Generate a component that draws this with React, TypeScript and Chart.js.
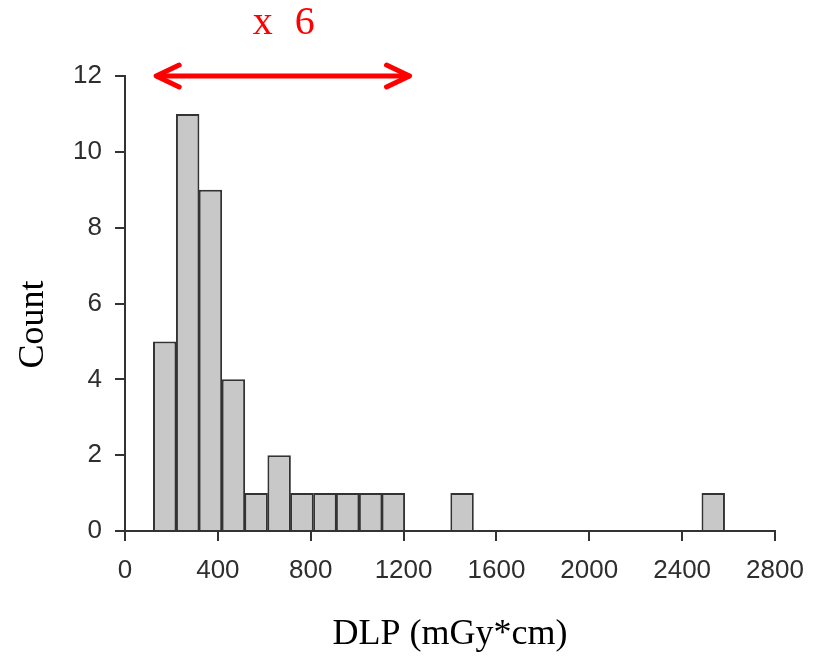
import React, { useEffect, useRef } from 'react';
import { Chart, registerables } from 'chart.js';

Chart.register(...registerables);

// DLP bin centres (mGy*cm) and counts
const binCenters = [171, 270, 368, 467, 565, 664, 762, 861, 959, 1058, 1156, 1452, 2534];
const counts = [5, 11, 9, 4, 1, 2, 1, 1, 1, 1, 1, 1, 1];

const xMin = 0;
const xMax = 2800;
const xStep = 400;
const yMin = 0;
const yMax = 12;
const yStep = 2;

const xTitle = 'DLP (mGy*cm)';
const yTitle = 'Count';
const rangeLabel = 'x 6';
const rangeFrom = 130;
const rangeTo = 1230;
const rangeLevel = 12;

const overlayPlugin = {
  id: 'overlay',
  afterDraw(chart: any) {
    const { ctx, scales, chartArea } = chart;
    const xs = scales.x;
    const ys = scales.y;
    const x1 = xs.getPixelForValue(rangeFrom);
    const x2 = xs.getPixelForValue(rangeTo);
    const y = ys.getPixelForValue(rangeLevel);
    ctx.save();
    ctx.strokeStyle = '#ff0000';
    ctx.lineWidth = 5;
    ctx.lineCap = 'round';
    ctx.lineJoin = 'round';
    ctx.beginPath();
    ctx.moveTo(x1 + 2, y);
    ctx.lineTo(x2 - 2, y);
    ctx.stroke();
    ctx.beginPath();
    ctx.moveTo(x1 + 24, y - 11);
    ctx.lineTo(x1 + 1, y);
    ctx.lineTo(x1 + 24, y + 11);
    ctx.stroke();
    ctx.beginPath();
    ctx.moveTo(x2 - 24, y - 11);
    ctx.lineTo(x2 - 1, y);
    ctx.lineTo(x2 - 24, y + 11);
    ctx.stroke();

    ctx.fillStyle = '#ff0000';
    ctx.font = '40px "Liberation Serif", serif';
    ctx.textAlign = 'center';
    ctx.textBaseline = 'middle';
    (ctx as any).letterSpacing = '6px';
    ctx.fillText(rangeLabel, (x1 + x2) / 2 + 4, y - 53);
    (ctx as any).letterSpacing = '0px';

    // y axis title
    ctx.fillStyle = '#000000';
    ctx.font = '36px "Liberation Serif", serif';
    ctx.translate(34, (chartArea.top + chartArea.bottom) / 2 + 21);
    ctx.rotate(-Math.PI / 2);
    ctx.textAlign = 'center';
    ctx.textBaseline = 'middle';
    ctx.fillText(yTitle, 0, 0);
    ctx.restore();
  },
};

export default function App() {
  const ref = useRef<HTMLCanvasElement | null>(null);

  useEffect(() => {
    if (!ref.current) return;
    const axisColor = '#333333';
    const tickFont = { family: '"Liberation Sans", Arial, sans-serif', size: 26 };
    const fmt = (v: any) => String(v);
    const chart = new Chart(ref.current, {
      type: 'bar',
      data: {
        datasets: [
          {
            data: binCenters.map((x, i) => ({ x, y: counts[i] })),
            backgroundColor: '#c8c8c8',
            borderColor: '#333333',
            borderWidth: 2,
            barPercentage: 1.03,
            categoryPercentage: 1,
          },
        ],
      },
      options: {
        responsive: false,
        animation: false,
        devicePixelRatio: 1,
        layout: { padding: { top: 76, right: 46, left: 0, bottom: 0 } },
        plugins: {
          legend: { display: false },
          tooltip: { enabled: false },
          title: { display: false },
        },
        scales: {
          x: {
            type: 'linear',
            min: xMin,
            max: xMax,
            offset: false,
            afterFit: (s: any) => {
              s.height = 130;
            },
            ticks: {
              stepSize: xStep,
              color: '#2e2e2e',
              font: tickFont,
              padding: 14,
              maxRotation: 0,
              autoSkip: false,
              callback: fmt,
            },
            grid: {
              display: true,
              offset: false,
              drawOnChartArea: false,
              drawTicks: true,
              tickLength: 10,
              color: axisColor,
              lineWidth: 2,
            },
            border: { display: true, color: axisColor, width: 2 },
            title: {
              display: true,
              text: xTitle,
              color: '#000000',
              font: { family: '"Liberation Serif", serif', size: 36 },
              padding: { top: 0, bottom: 5 },
            },
          },
          y: {
            type: 'linear',
            min: yMin,
            max: yMax,
            afterFit: (s: any) => {
              s.width = 125;
            },
            ticks: {
              stepSize: yStep,
              color: '#2e2e2e',
              font: tickFont,
              padding: 13,
              callback: fmt,
            },
            grid: {
              display: true,
              drawOnChartArea: false,
              drawTicks: true,
              tickLength: 10,
              color: axisColor,
              lineWidth: 2,
            },
            border: { display: true, color: axisColor, width: 2 },
          },
        },
      },
      plugins: [overlayPlugin],
    });
    return () => chart.destroy();
  }, []);

  return (
    <div style={{ position: 'fixed', left: 0, top: 0, width: 821, height: 661, background: '#ffffff' }}>
      <canvas ref={ref} width={821} height={661} style={{ display: 'block' }} />
    </div>
  );
}
